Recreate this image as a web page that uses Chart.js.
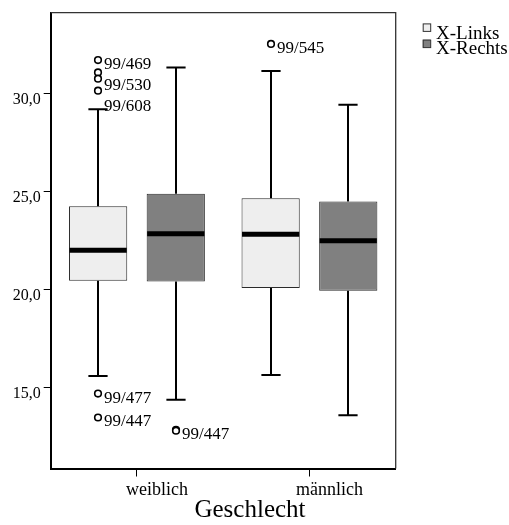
<!DOCTYPE html>
<html>
<head>
<meta charset="utf-8">
<script src="https://cdn.jsdelivr.net/npm/chart.js@4/dist/chart.umd.min.js"></script>
<style>
  html, body { margin: 0; padding: 0; background: #ffffff; }
  canvas { display: block; }
</style>
</head>
<body>
<canvas id="c" width="509" height="525"></canvas>
<script>
// ---- data ----
const categories = ['weiblich', 'männlich'];
const seriesNames = ['X-Links', 'X-Rechts'];

const linksMin    = [15.59, 15.64];
const linksQ1     = [20.45, 20.07];
const linksMedian = [22.00, 22.81];
const linksQ3     = [24.25, 24.65];
const linksMax    = [29.19, 31.14];

const rechtsMin    = [14.37, 13.59];
const rechtsQ1     = [20.41, 19.94];
const rechtsMedian = [22.84, 22.48];
const rechtsQ3     = [24.88, 24.49];
const rechtsMax    = [31.32, 29.42];

const linksOutliers      = [[31.70, 31.07, 30.75, 30.14, 14.69, 13.47], [32.52]];
const linksOutlierLabels = [['99/469', '99/530', '99/608', '', '99/477', '99/447'], ['99/545']];
const rechtsOutliers      = [[12.84, 12.80], []];
const rechtsOutlierLabels = [['99/447', ''], []];

const yTicks = [15, 20, 25, 30];
const yTickLabels = ['15,0', '20,0', '25,0', '30,0'];
const yMin = 10.87;
const yMax = 34.12;

const xTitle = 'Geschlecht';

// ---- chart ----
const SERIF = "'Liberation Serif', 'Times New Roman', serif";
Chart.defaults.font.family = SERIF;
Chart.defaults.color = '#000000';

const fills = ['#eeeeee', '#808080'];

const datasets = [
  {
    label: seriesNames[0],
    data: categories.map((c, i) => [linksQ1[i], linksQ3[i]]),
    stats: { min: linksMin, median: linksMedian, max: linksMax, outliers: linksOutliers, labels: linksOutlierLabels }
  },
  {
    label: seriesNames[1],
    data: categories.map((c, i) => [rechtsQ1[i], rechtsQ3[i]]),
    stats: { min: rechtsMin, median: rechtsMedian, max: rechtsMax, outliers: rechtsOutliers, labels: rechtsOutlierLabels }
  }
].map((d, i) => Object.assign(d, {
  backgroundColor: fills[i],
  borderColor: '#2a2a2a',
  borderWidth: 1,
  borderSkipped: false,
  categoryPercentage: 0.9,
  barPercentage: 0.75
}));

const boxPlugin = {
  id: 'boxExtras',
  beforeDatasetsDraw(chart) {
    const ctx = chart.ctx;
    const ys = chart.scales.y;
    ctx.save();
    ctx.strokeStyle = '#000';
    ctx.lineWidth = 2;
    chart.data.datasets.forEach((ds, d) => {
      const meta = chart.getDatasetMeta(d);
      meta.data.forEach((bar, j) => {
        const x = Math.round(bar.x);
        const cap = bar.width * 0.165;
        const pMax = ys.getPixelForValue(ds.stats.max[j]);
        const pMin = ys.getPixelForValue(ds.stats.min[j]);
        const pQ3 = ys.getPixelForValue(ds.data[j][1]);
        const pQ1 = ys.getPixelForValue(ds.data[j][0]);
        ctx.beginPath();
        ctx.moveTo(x, pMax); ctx.lineTo(x, pQ3);
        ctx.moveTo(x, pQ1); ctx.lineTo(x, pMin);
        ctx.moveTo(x - cap, pMax); ctx.lineTo(x + cap, pMax);
        ctx.moveTo(x - cap, pMin); ctx.lineTo(x + cap, pMin);
        ctx.stroke();
      });
    });
    ctx.restore();
  },
  afterDatasetsDraw(chart) {
    const ctx = chart.ctx;
    const ys = chart.scales.y;
    const area = chart.chartArea;
    ctx.save();
    // medians
    chart.data.datasets.forEach((ds, d) => {
      const meta = chart.getDatasetMeta(d);
      meta.data.forEach((bar, j) => {
        const pMed = ys.getPixelForValue(ds.stats.median[j]);
        ctx.strokeStyle = '#000';
        ctx.lineWidth = 5;
        ctx.beginPath();
        ctx.moveTo(bar.x - bar.width / 2 + 0.5, pMed);
        ctx.lineTo(bar.x + bar.width / 2 - 0.5, pMed);
        ctx.stroke();
      });
    });
    // outliers + labels
    ctx.font = '17px ' + SERIF;
    ctx.textAlign = 'left';
    ctx.textBaseline = 'middle';
    chart.data.datasets.forEach((ds, d) => {
      const meta = chart.getDatasetMeta(d);
      meta.data.forEach((bar, j) => {
        const x = Math.round(bar.x);
        const vals = ds.stats.outliers[j] || [];
        const labs = ds.stats.labels[j] || [];
        const items = vals.map((v, k) => ({ v, lab: labs[k], p: ys.getPixelForValue(v) }))
                          .sort((a, b) => a.p - b.p);
        let lastY = -Infinity;
        items.forEach(it => {
          ctx.beginPath();
          ctx.arc(x, it.p, 3.3, 0, Math.PI * 2);
          ctx.fillStyle = '#fff';
          ctx.fill();
          ctx.lineWidth = 1.6;
          ctx.strokeStyle = '#000';
          ctx.stroke();
          if (it.lab) {
            const ly = Math.max(it.p + 4.5, lastY + 21);
            ctx.fillStyle = '#000';
            ctx.fillText(it.lab, x + 6, ly);
            lastY = ly;
          }
        });
      });
    });
    // frame top/right
    ctx.strokeStyle = '#333';
    ctx.lineWidth = 1.3;
    ctx.beginPath();
    ctx.moveTo(area.left, area.top);
    ctx.lineTo(area.right, area.top);
    ctx.lineTo(area.right, area.bottom);
    ctx.stroke();
    // legend
    ctx.font = '19px ' + SERIF;
    ctx.textBaseline = 'alphabetic';
    chart.data.datasets.forEach((ds, d) => {
      const bx = area.right + 27;
      const by = area.top + 10.8 + d * 16.2;
      ctx.fillStyle = ds.backgroundColor;
      ctx.fillRect(bx, by, 8, 8);
      ctx.strokeStyle = '#333';
      ctx.lineWidth = 1;
      ctx.strokeRect(bx + 0.5, by + 0.5, 7.5, 7.5);
      ctx.fillStyle = '#000';
      ctx.fillText(ds.label, area.right + 40.3, area.top + 26 + d * 15);
    });
    ctx.restore();
  }
};

new Chart(document.getElementById('c'), {
  type: 'bar',
  data: { labels: categories, datasets },
  plugins: [boxPlugin],
  options: {
    responsive: false,
    animation: false,
    devicePixelRatio: 1,
    layout: { padding: { left: 0, top: 11.7, right: 9, bottom: 0 } },
    plugins: {
      legend: { display: false },
      tooltip: { enabled: false },
      title: {
        display: true,
        text: xTitle,
        position: 'bottom',
        color: '#000',
        font: { size: 25, weight: 'normal', family: SERIF },
        padding: 0
      }
    },
    scales: {
      x: {
        type: 'category',
        offset: true,
        grid: { offset: false, drawOnChartArea: false, drawTicks: true, tickLength: 8, color: '#000', lineWidth: 1 },
        border: { display: true, color: '#000', width: 2 },
        ticks: { font: { size: 18 }, color: '#000', padding: 3, labelOffset: 20, maxRotation: 0, autoSkip: false },
        afterFit(s) { s.height = 26.5; }
      },
      y: {
        type: 'linear',
        min: yMin,
        max: yMax,
        afterBuildTicks(s) { s.ticks = yTicks.map(v => ({ value: v })); },
        grid: { drawOnChartArea: false, drawTicks: true, tickLength: 7, color: '#000', lineWidth: 1 },
        border: { display: true, color: '#000', width: 2 },
        ticks: {
          font: { size: 16 }, color: '#000', padding: 3, labelOffset: 6,
          callback(v, i) { return yTickLabels[i]; }
        },
        afterFit(s) { s.width = 50.7; }
      },
      y2: {
        type: 'linear',
        position: 'right',
        display: true,
        grid: { display: false, drawTicks: false },
        border: { display: false },
        ticks: { display: false },
        afterFit(s) { s.width = 104.3; }
      }
    }
  }
});
</script>
</body>
</html>
